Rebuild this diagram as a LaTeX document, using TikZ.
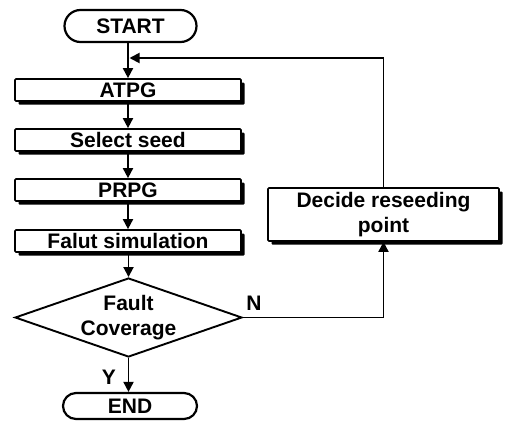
\documentclass[tikz,border=0pt]{standalone}
\usepackage{fontspec}
\setmainfont{Liberation Sans}
\usetikzlibrary{arrows.meta,shapes.geometric,shapes.misc,shadows}
\begin{document}
\begin{tikzpicture}[x=1pt,y=-1pt,
  every node/.style={font=\fontsize{21}{25}\selectfont\bfseries},
  proc/.style={draw,line width=1.7pt,fill=white,inner sep=0pt,
    minimum width=226pt,minimum height=22pt,rounded corners=1pt,
    drop shadow={shadow xshift=3.5pt,shadow yshift=-3.5pt,fill=black,opacity=1}},
  term/.style={draw,line width=2.2pt,fill=white,rounded rectangle,inner sep=0pt},
  decision/.style={draw,line width=1.9pt,diamond,inner sep=0pt,aspect=2.87,
    minimum width=227pt,minimum height=79pt},
  flow/.style={line width=1.8pt,-{Triangle[length=10pt,width=10pt]}},
  label/.style={inner sep=0pt}
]
\useasboundingbox (0,0) rectangle (506,421);

% main column
\node[term,minimum width=132pt,minimum height=32pt] (start) at (130.5,26) {START};
\node[proc] (atpg) at (128,90) {ATPG};
\node[proc] (seed) at (128,140) {Select seed};
\node[proc] (prpg) at (128,190) {PRPG};
\node[proc] (sim)  at (128,241) {Falut simulation};
\node[decision] (cov) at (128.5,317.5) {};
\node[align=center,inner sep=0pt] (covtext) at (cov.center) {Fault\\Coverage};
\node[term,minimum width=134pt,minimum height=26pt] (end) at (130,406) {END};

% reseeding branch
\node[proc,minimum width=231pt,minimum height=53pt,align=center]
  (dec) at (383.5,214.5) {Decide reseeding\\point};

% connectors
\draw[flow] (start.south -| atpg.north) -- (atpg);
\draw[flow] (atpg) -- (seed);
\draw[flow] (seed) -- (prpg);
\draw[flow] (prpg) -- (sim);
\draw[flow] (sim.south -| cov.north) -- (cov.north);
\draw[flow] (cov.south) -- (end.north -| cov.south);
\draw[flow] (cov.east) -| (dec.south);
\coordinate (join) at (129.5,58);
\draw[flow] (dec.north) |- (join);

% branch labels
\node[label] at (109,377) {Y};
\node[label] at (254,303) {N};
\end{tikzpicture}
\end{document}
